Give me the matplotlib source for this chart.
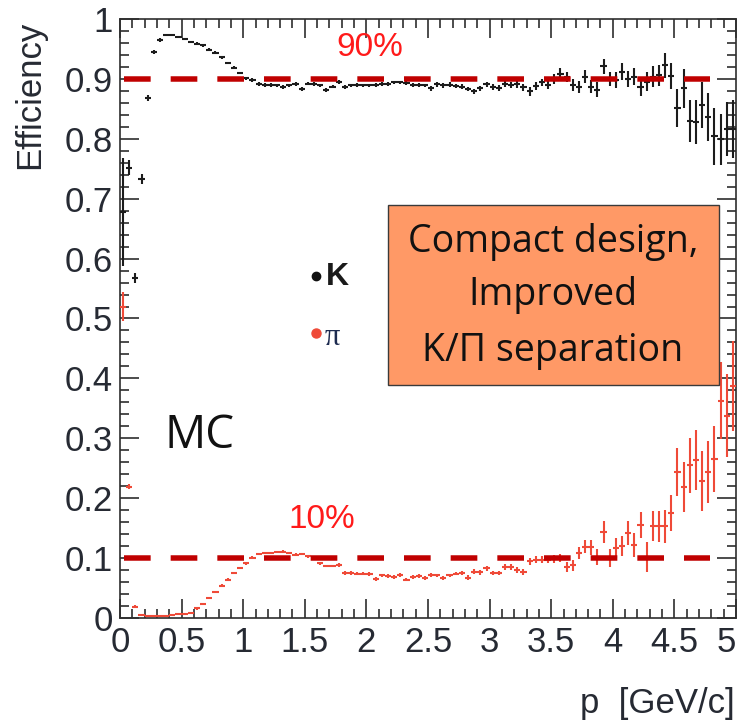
import matplotlib
matplotlib.use("Agg")
import matplotlib.pyplot as plt
from matplotlib.patches import Rectangle
from matplotlib.ticker import FixedLocator, MultipleLocator

# ---------------- data ----------------
p_bins = [round(0.025 + 0.05 * i, 3) for i in range(100)]  # bin centres (0.05 wide bins, 0-5 GeV/c)
bin_half_width = 0.025

kaon_eff = [
    0.678, 0.752, 0.568, 0.733, 0.868, 0.945, 0.965, 0.973, 0.973, 0.970,
    0.967, 0.962, 0.959, 0.956, 0.949, 0.944, 0.936, 0.927, 0.919, 0.910,
    0.901, 0.898, 0.891, 0.890, 0.890, 0.889, 0.886, 0.889, 0.891, 0.883,
    0.892, 0.891, 0.889, 0.881, 0.887, 0.895, 0.886, 0.889, 0.890, 0.889,
    0.889, 0.890, 0.891, 0.891, 0.894, 0.894, 0.893, 0.890, 0.890, 0.889,
    0.884, 0.891, 0.889, 0.890, 0.888, 0.887, 0.883, 0.879, 0.884, 0.891,
    0.887, 0.884, 0.891, 0.890, 0.891, 0.886, 0.879, 0.888, 0.894, 0.890,
    0.900, 0.909, 0.903, 0.890, 0.886, 0.904, 0.887, 0.882, 0.921, 0.900,
    0.898, 0.912, 0.900, 0.904, 0.887, 0.895, 0.904, 0.906, 0.923, 0.905,
    0.851, 0.884, 0.829, 0.828, 0.856, 0.837, 0.804, 0.799, 0.817, 0.816,
]
kaon_err = [
    0.090, 0.012, 0.008, 0.008, 0.005, 0.003, 0.003, 0.002, 0.002, 0.002,
    0.002, 0.002, 0.002, 0.002, 0.002, 0.002, 0.002, 0.002, 0.002, 0.002,
    0.003, 0.003, 0.003, 0.003, 0.003, 0.003, 0.003, 0.003, 0.003, 0.003,
    0.003, 0.003, 0.003, 0.003, 0.003, 0.003, 0.003, 0.003, 0.003, 0.003,
    0.003, 0.003, 0.003, 0.003, 0.003, 0.003, 0.003, 0.003, 0.003, 0.003,
    0.004, 0.004, 0.004, 0.004, 0.004, 0.004, 0.004, 0.004, 0.004, 0.004,
    0.005, 0.005, 0.005, 0.005, 0.006, 0.006, 0.008, 0.006, 0.006, 0.007,
    0.008, 0.010, 0.009, 0.010, 0.010, 0.011, 0.011, 0.012, 0.012, 0.012,
    0.013, 0.014, 0.014, 0.015, 0.016, 0.016, 0.017, 0.018, 0.021, 0.022,
    0.032, 0.033, 0.035, 0.036, 0.038, 0.040, 0.047, 0.043, 0.045, 0.048,
]
pion_eff = [
    0.520, 0.219, 0.019, 0.005, 0.003, 0.003, 0.003, 0.003, 0.005, 0.006,
    0.006, 0.008, 0.016, 0.023, 0.033, 0.043, 0.054, 0.064, 0.075, 0.083,
    0.091, 0.101, 0.107, 0.109, 0.109, 0.110, 0.111, 0.109, 0.106, 0.107,
    0.103, 0.098, 0.091, 0.087, 0.087, 0.088, 0.075, 0.075, 0.074, 0.074,
    0.073, 0.065, 0.071, 0.070, 0.068, 0.072, 0.064, 0.068, 0.070, 0.067,
    0.072, 0.071, 0.067, 0.071, 0.074, 0.075, 0.067, 0.077, 0.076, 0.083,
    0.075, 0.075, 0.085, 0.085, 0.080, 0.077, 0.095, 0.097, 0.097, 0.097,
    0.098, 0.100, 0.085, 0.088, 0.108, 0.119, 0.118, 0.102, 0.144, 0.100,
    0.117, 0.120, 0.142, 0.122, 0.155, 0.102, 0.153, 0.153, 0.153, 0.175,
    0.244, 0.219, 0.255, 0.264, 0.228, 0.244, 0.266, 0.363, 0.338, 0.388,
]
pion_err = [
    0.025, 0.004, 0.002, 0.001, 0.001, 0.001, 0.001, 0.001, 0.001, 0.001,
    0.001, 0.002, 0.002, 0.002, 0.002, 0.002, 0.002, 0.002, 0.002, 0.002,
    0.002, 0.002, 0.002, 0.002, 0.002, 0.002, 0.002, 0.002, 0.002, 0.002,
    0.002, 0.002, 0.002, 0.002, 0.002, 0.003, 0.003, 0.003, 0.003, 0.003,
    0.003, 0.003, 0.003, 0.003, 0.003, 0.003, 0.003, 0.003, 0.003, 0.003,
    0.003, 0.003, 0.003, 0.003, 0.003, 0.004, 0.004, 0.004, 0.004, 0.004,
    0.004, 0.004, 0.005, 0.005, 0.005, 0.005, 0.006, 0.006, 0.006, 0.006,
    0.007, 0.007, 0.008, 0.009, 0.010, 0.011, 0.012, 0.013, 0.018, 0.015,
    0.016, 0.017, 0.020, 0.020, 0.022, 0.025, 0.025, 0.026, 0.028, 0.030,
    0.040, 0.042, 0.046, 0.050, 0.050, 0.052, 0.055, 0.065, 0.070, 0.075,
]

threshold_levels = [0.9, 0.1]
threshold_labels = ["90%", "10%"]
x_ticks = [0, 0.5, 1, 1.5, 2, 2.5, 3, 3.5, 4, 4.5, 5]
x_tick_labels = ["0", "0.5", "1", "1.5", "2", "2.5", "3", "3.5", "4", "4.5", "5"]
y_ticks = [0, 0.1, 0.2, 0.3, 0.4, 0.5, 0.6, 0.7, 0.8, 0.9, 1.0]
y_tick_labels = ["0", "0.1", "0.2", "0.3", "0.4", "0.5", "0.6", "0.7", "0.8", "0.9", "1"]

# ---------------- styling ----------------
W, H = 744, 723
fig = plt.figure(figsize=(W / 100, H / 100), dpi=100)
ax = fig.add_axes([120 / W, (H - 618) / H, 616 / W, 599 / H])

axis_col = "#2e2e2e"
text_col = "#262a33"
k_col = "#1c1c1c"
pi_col = "#ef4a38"
dash_col = "#c00000"
sans = ["Liberation Sans", "DejaVu Sans"]

ax.set_xlim(0, 5)
ax.set_ylim(0, 1)

for s in ax.spines.values():
    s.set_color(axis_col)
    s.set_linewidth(1.2)

ax.xaxis.set_major_locator(FixedLocator(x_ticks))
ax.set_xticks(x_ticks)
ax.set_xticklabels(x_tick_labels)
ax.xaxis.set_minor_locator(MultipleLocator(0.1))
ax.set_yticks(y_ticks)
ax.set_yticklabels(y_tick_labels)
ax.yaxis.set_minor_locator(MultipleLocator(0.02))

ax.tick_params(which="both", direction="in", top=True, right=True,
               color=axis_col, width=1.2, labelcolor=text_col)
ax.tick_params(which="major", length=13.5)
ax.tick_params(which="minor", length=6.8)
ax.tick_params(axis="x", which="major", pad=6)
ax.tick_params(axis="y", which="major", pad=5)
for lab in ax.get_xticklabels() + ax.get_yticklabels():
    lab.set_fontfamily(sans)
    lab.set_fontsize(25)
# keep the last x label inside the picture, as in the reference
ax.get_xticklabels()[-1].set_horizontalalignment("right")
ax.get_xticklabels()[-1].set_x(5.06)

# ---------------- data marks ----------------
ax.errorbar(p_bins, kaon_eff, yerr=kaon_err, xerr=bin_half_width, fmt="none",
            ecolor=k_col, elinewidth=1.5, capsize=0, zorder=3)
ax.errorbar(p_bins, pion_eff, yerr=pion_err, xerr=bin_half_width, fmt="none",
            ecolor=pi_col, elinewidth=1.5, capsize=0, zorder=3)

# threshold dashed lines
lw_pt = 5.5 * 0.72
for lvl in threshold_levels:
    ax.axhline(lvl, xmin=4 / 616, xmax=590 / 616, color=dash_col, lw=lw_pt,
               dashes=(19.2 / lw_pt, 14.4 / lw_pt), dash_capstyle="butt", zorder=4)

narrow = ["Liberation Sans Narrow", "Liberation Sans", "DejaVu Sans"]
ax.text(0.406, 0.952, threshold_labels[0], transform=ax.transAxes, color="#ff1a1a",
        fontsize=24, ha="center", va="center", family=narrow)
ax.text(0.327, 0.164, threshold_labels[1], transform=ax.transAxes, color="#ff1a1a",
        fontsize=24, ha="center", va="center", family=narrow)

# legend-like labels
ax.plot([0.318], [0.571], "o", color="#111111", ms=6, transform=ax.transAxes,
        clip_on=False, zorder=5)
ax.text(0.334, 0.570, "K", transform=ax.transAxes, fontsize=23, fontweight="bold",
        color="#1a1a1a", ha="left", va="center", family=sans)
ax.plot([0.318], [0.476], "o", color=pi_col, ms=6.5, transform=ax.transAxes,
        clip_on=False, zorder=5)
ax.text(0.332, 0.468, "π", transform=ax.transAxes, fontsize=22,
        color="#1d2b50", ha="left", va="center",
        family=["Liberation Serif", "DejaVu Serif"])

# MC label
ax.text(0.073, 0.304, "MC", transform=ax.transAxes, fontsize=33, color="#111111",
        ha="left", va="center", family=["Open Sans", "DejaVu Sans"])

# orange annotation box
box = Rectangle((268 / 616, 0.389), (599 - 268) / 616, 0.689 - 0.389,
                transform=ax.transAxes, facecolor="#ff9966", edgecolor="#3a3a3a",
                lw=1.0, zorder=6)
ax.add_patch(box)
for txt, yy in [("Compact design,", 0.628), ("Improved", 0.539), ("K/Π separation", 0.446)]:
    ax.text(0.703, yy, txt, transform=ax.transAxes, fontsize=27, color="#111111",
            ha="center", va="center", family=["Open Sans", "DejaVu Sans"], zorder=7)

# axis titles
fig.text(30 / W, 1 - 95 / H, "Efficiency", rotation=90, ha="center", va="center",
         fontsize=25, color=text_col, family=sans)
fig.text(735 / W, 1 - 703 / H, "p  [GeV/c]", ha="right", va="center",
         fontsize=25, color=text_col, family=sans)

fig.savefig("out.png", dpi=100)
